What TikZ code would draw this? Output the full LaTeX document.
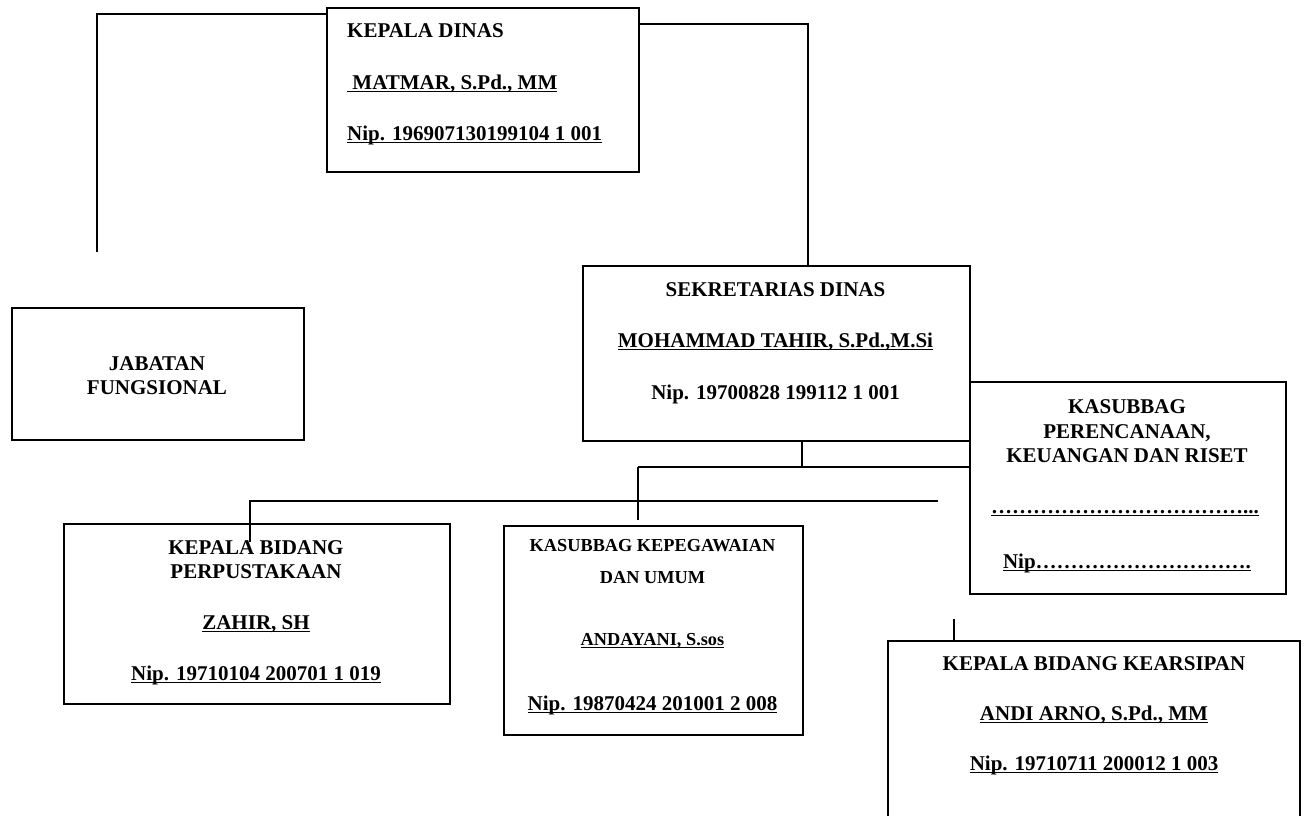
\documentclass[tikz,border=0pt]{standalone}
\usepackage{fontspec}
\setmainfont{Liberation Serif}
\newcommand{\uln}[1]{\setbox0\hbox{#1}\rlap{\rule[-3.2pt]{\wd0}{1.6pt}}\box0}
\newcommand{\elp}{…}
\tikzset{
  box/.style={draw, line width=2pt, anchor=north west, inner sep=0pt},
  conn/.style={line width=1.6pt},
  tx/.style={anchor=base, inner sep=0pt, font=\fontsize{21}{24}\selectfont\bfseries},
  txl/.style={anchor=base west, inner sep=0pt, font=\fontsize{21}{24}\selectfont\bfseries},
  txs/.style={anchor=base, inner sep=0pt, font=\fontsize{18.3}{22}\selectfont\bfseries},
}
\begin{document}
\begin{tikzpicture}[x=1pt,y=-1pt]
\useasboundingbox (0,0) rectangle (1305,815);
\clip (0,0) rectangle (1305,815);
% boxes
\node[box, minimum width=312pt, minimum height=164pt] (kd) at (326,7) {};
\node[box, minimum width=387pt, minimum height=175pt] (sek) at (582,265) {};
\node[box, minimum width=292pt, minimum height=132pt] (jf) at (11,307) {};
\node[box, minimum width=316pt, minimum height=212pt] (kp) at (969,381) {};
\node[box, minimum width=386pt, minimum height=180pt] (zb) at (63,523) {};
\node[box, minimum width=299pt, minimum height=209pt] (kk) at (503,525) {};
\node[box, minimum width=412pt, minimum height=200pt] (ka) at (887,640) {};
% texts
\node[txl] (kd1) at (347,37) {KEPALA DINAS};
\node[txl] (kd2) at (347,89) {\uln{\ MATMAR, S.Pd., MM}};
\node[txl] (kd3) at (347,140) {\uln{Nip. 196907130199104 1 001}};
\node[tx] (s1t) at (775.5,296) {SEKRETARIAS DINAS};
\node[tx] (s2t) at (775.5,347) {\uln{MOHAMMAD TAHIR, S.Pd.,M.Si}};
\node[tx] (s3t) at (775.5,399) {Nip. 19700828 199112 1 001};
\node[tx] (j1) at (157,370) {JABATAN};
\node[tx] (j2) at (157,394) {FUNGSIONAL};
\node[tx] (z1) at (256,554) {KEPALA BIDANG};
\node[tx] (z2) at (256,578) {PERPUSTAKAAN};
\node[tx] (z3) at (256,629) {\uln{ZAHIR, SH}};
\node[tx] (z4) at (256,680) {\uln{Nip. 19710104 200701 1 019}};
\node[txs] (k1) at (652.5,551) {KASUBBAG KEPEGAWAIAN};
\node[txs] (k2) at (652.5,583) {DAN UMUM};
\node[txs] (k3) at (652.5,645) {\uln{ANDAYANI, S.sos}};
\node[tx] (k4) at (652.5,710) {\uln{Nip. 19870424 201001 2 008}};
\node[tx] (p1) at (1127,413) {KASUBBAG};
\node[tx] (p2) at (1127,438) {PERENCANAAN,};
\node[tx] (p3) at (1127,462) {KEUANGAN DAN RISET};
\node[tx] (p4) at (1125,513) {\uln{\elp\elp\elp\elp\elp\elp\elp\elp\elp\elp\elp\elp...}};
\node[tx] (p5) at (1127,568) {\uln{Nip\elp\elp\elp\elp\elp\elp\elp\elp\elp\elp.}};
\node[tx] (a1) at (1094,670) {KEPALA BIDANG KEARSIPAN};
\node[tx] (a2) at (1094,720) {\uln{ANDI ARNO, S.Pd., MM}};
\node[tx] (a3) at (1094,770) {\uln{Nip. 19710711 200012 1 003}};
% junction coordinates
\coordinate (lc) at (97,14);
\coordinate (lend) at (97,252);
\coordinate (rc) at (808,24);
\coordinate (sj) at (802,467);
\coordinate (lj) at (638,467);
\coordinate (kkend) at (638,520);
\coordinate (zj) at (250,501);
\coordinate (zend) at (250,542);
\coordinate (hend) at (938,501);
\coordinate (ast) at (954,619);
% connectors
\draw[conn] (kd.west |- lc) -- (lc) -- (lend);
\draw[conn] (kd.east |- rc) -- (rc) -- (sek.north -| rc);
\draw[conn] (sek.south -| sj) -- (sj);
\draw[conn] (lj) -- (kp.west |- lj);
\draw[conn] (lj) -- (kkend);
\draw[conn] (hend) -- (zj) -- (zend);
\draw[conn] (ast) -- (ka.north -| ast);
\end{tikzpicture}
\end{document}
